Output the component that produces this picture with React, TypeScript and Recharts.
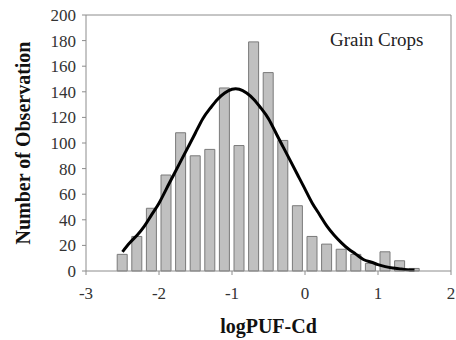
import {
  ComposedChart,
  Bar,
  Line,
  XAxis,
  YAxis,
  ReferenceLine,
} from "recharts";

// histogram bins (bin centres, width 0.2) and counts
const binCentres = [
  -2.5, -2.3, -2.1, -1.9, -1.7, -1.5, -1.3, -1.1, -0.9, -0.7, -0.5, -0.3, -0.1,
  0.1, 0.3, 0.5, 0.7, 0.9, 1.1, 1.3, 1.5,
];
const binCounts = [
  13, 27, 49, 75, 108, 90, 95, 143, 98, 179, 155, 102, 51, 27, 21, 17, 13, 6,
  15, 8, 2,
];

// fitted curve
const curveX = [
  -2.5, -2.4, -2.3, -2.2, -2.1, -2.0, -1.9, -1.8, -1.7, -1.6, -1.5, -1.4, -1.3,
  -1.2, -1.1, -1.0, -0.9, -0.8, -0.7, -0.6, -0.5, -0.4, -0.3, -0.2, -0.1, 0.0,
  0.1, 0.2, 0.3, 0.4, 0.5, 0.6, 0.7, 0.8, 0.9, 1.0, 1.1, 1.2, 1.3, 1.4, 1.5,
];
const curveY = [
  15, 22, 28, 35, 44, 53, 64, 75, 86, 97, 108, 119, 127, 134, 139, 142, 142,
  139, 134, 127, 119, 108, 97, 86, 75, 64, 53, 44, 35, 28, 22, 17, 13, 9, 7,
  5, 3.4, 2.3, 1.6, 1, 0.7,
];

const xTicks = [-3, -2, -1, 0, 1, 2];
const yTicks = [0, 20, 40, 60, 80, 100, 120, 140, 160, 180, 200];

const barData = binCentres.map((x, i) => ({ x, count: binCounts[i] }));
const curveData = curveX.map((x, i) => ({ x, fit: curveY[i] }));

const FONT = '"Liberation Serif", "Times New Roman", "DejaVu Serif", serif';
const AXIS = "#8c8c8c";

export default function App() {
  return (
    <div
      style={{
        position: "absolute",
        left: 0,
        top: 0,
        width: 456,
        height: 340,
        background: "#fff",
        fontFamily: FONT,
      }}
    >
      <style>{`.recharts-wrapper text { font-family: ${FONT} !important; }`}</style>
      <ComposedChart
        width={456}
        height={340}
        data={barData}
        margin={{ top: 15, right: 5, bottom: 0, left: 0 }}
      >
        <XAxis
          dataKey="x"
          type="number"
          domain={[-3, 2]}
          ticks={xTicks}
          allowDataOverflow
          height={69}
          stroke={AXIS}
          tickSize={4}
          tickMargin={12}
          tick={{ fill: "#333", fontSize: 17 }}
          label={{
            value: "logPUF-Cd",
            position: "insideBottom",
            offset: 7,
            style: { fontWeight: "bold", fontSize: 20, fill: "#111" },
          }}
        />
        {/* hidden axis for the curve so its finer sampling does not shrink the bars */}
        <XAxis
          xAxisId="curve"
          dataKey="x"
          type="number"
          domain={[-3, 2]}
          allowDataOverflow
          hide
        />
        <YAxis
          type="number"
          domain={[0, 200]}
          ticks={yTicks}
          width={86}
          stroke={AXIS}
          tickSize={4}
          tickMargin={6}
          tick={{ fill: "#333", fontSize: 17 }}
          label={{
            value: "Number of Observation",
            angle: -90,
            position: "center",
            dx: -20,
            style: {
              fontWeight: "bold",
              fontSize: 20,
              fill: "#111",
              textAnchor: "middle",
            },
          }}
        />
        <ReferenceLine y={200} stroke={AXIS} strokeWidth={1} />
        <ReferenceLine x={2} stroke={AXIS} strokeWidth={1} />
        <Bar
          dataKey="count"
          barSize={10}
          fill="#c0c0c0"
          stroke="#7a7a7a"
          strokeWidth={1}
          isAnimationActive={false}
        />
        <Line
          xAxisId="curve"
          data={curveData}
          dataKey="fit"
          type="natural"
          stroke="#000"
          strokeWidth={3}
          dot={false}
          activeDot={false}
          isAnimationActive={false}
        />
      </ComposedChart>
      <div
        style={{
          position: "absolute",
          left: 330,
          top: 30,
          fontSize: 19,
          lineHeight: 1,
          color: "#222",
          whiteSpace: "nowrap",
        }}
      >
        Grain Crops
      </div>
    </div>
  );
}
